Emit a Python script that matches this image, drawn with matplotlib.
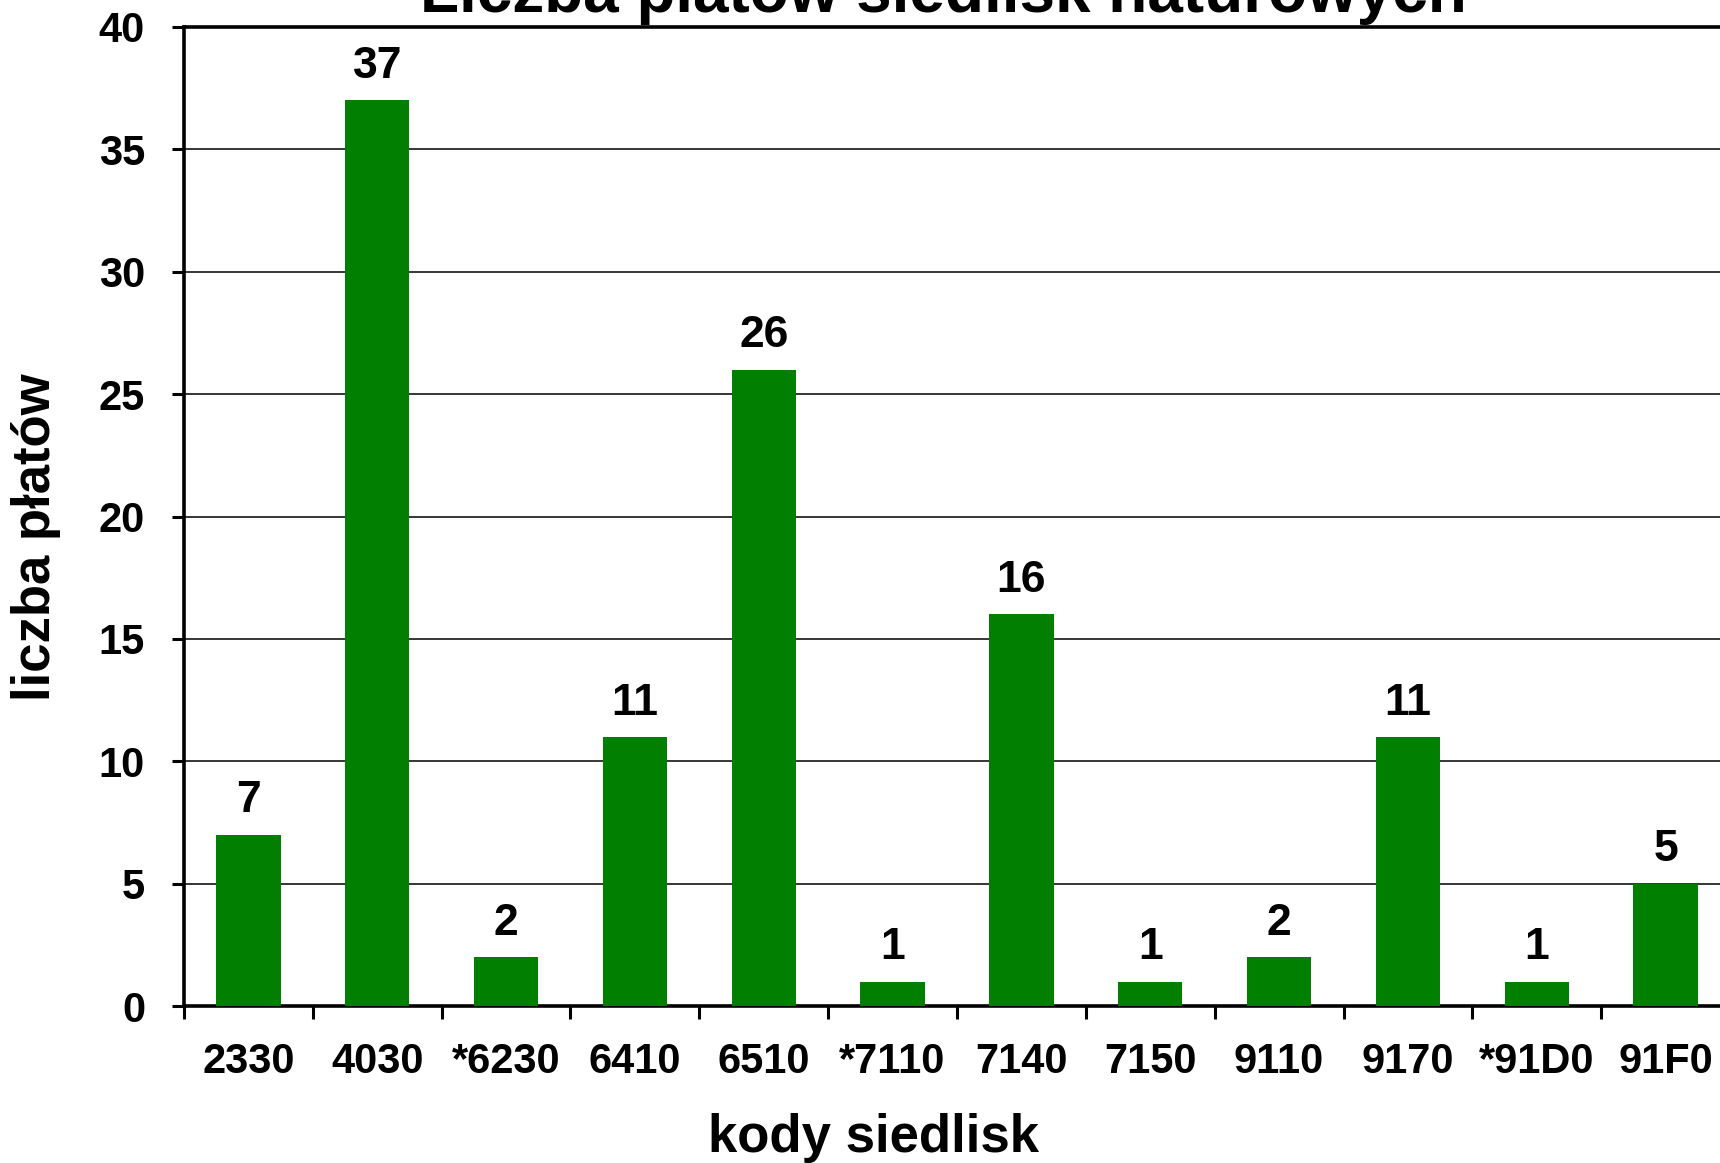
import numpy as np
import matplotlib
matplotlib.use("Agg")
import matplotlib.pyplot as plt

plt.rcParams["font.family"] = ["Liberation Sans", "DejaVu Sans"]
plt.rcParams["font.weight"] = "bold"

# Data
codes = ["2330", "4030", "*6230", "6410", "6510", "*7110",
         "7140", "7150", "9110", "9170", "*91D0", "91F0"]
counts = [7, 37, 2, 11, 26, 1, 16, 1, 2, 11, 1, 5]
y_ticks = [0, 5, 10, 15, 20, 25, 30, 35, 40]

W, H = 1720, 1163
fig = plt.figure(figsize=(W / 100, H / 100), dpi=100)

# Plot area runs a little past the right edge of the picture, as in the reference
left, bottom = 184 / W, 1 - 1006 / H
ax = fig.add_axes([left, bottom, 1546 / W, (1006 - 27) / H])

x = np.arange(len(codes))
ax.bar(x, counts, width=0.5, color="#007f00", zorder=3)

for xi, v in zip(x, counts):
    ax.annotate(str(v), (xi, v), xytext=(0, 16), textcoords="offset points",
                ha="center", va="baseline", fontsize=32, fontweight="bold")

ax.set_xlim(-0.5, len(codes) - 0.5)
ax.set_ylim(0, 40)
ax.set_yticks(y_ticks)
ax.yaxis.grid(True, color="black", linewidth=1.1, zorder=0)

ax.set_xticks(x)
ax.set_xticklabels(codes)
ax.set_xticks(np.arange(len(codes) + 1) - 0.5, minor=True)
ax.tick_params(axis="x", which="major", length=0, pad=26, labelsize=30)
ax.tick_params(axis="x", which="minor", length=9, width=2.2, direction="out")
ax.tick_params(axis="y", length=9, width=2.2, pad=19, labelsize=30)
for lab in ax.get_xticklabels() + ax.get_yticklabels():
    lab.set_fontweight("bold")

for side in ["left", "bottom", "top"]:
    ax.spines[side].set_linewidth(2.6)
ax.spines["right"].set_visible(False)

fig.text(36 / W, 1 - 537 / H, "liczba płatów", rotation=90, ha="center",
         va="center", fontsize=38, fontweight="bold")
fig.text(874 / W, 1 - 1152 / H, "kody siedlisk", ha="center", va="baseline",
         fontsize=38, fontweight="bold")
fig.text(943 / W, 1 - 12 / H, "Liczba płatów siedlisk naturowych",
         ha="center", va="baseline", fontsize=46, fontweight="bold")

fig.savefig("out.png", dpi=100)
